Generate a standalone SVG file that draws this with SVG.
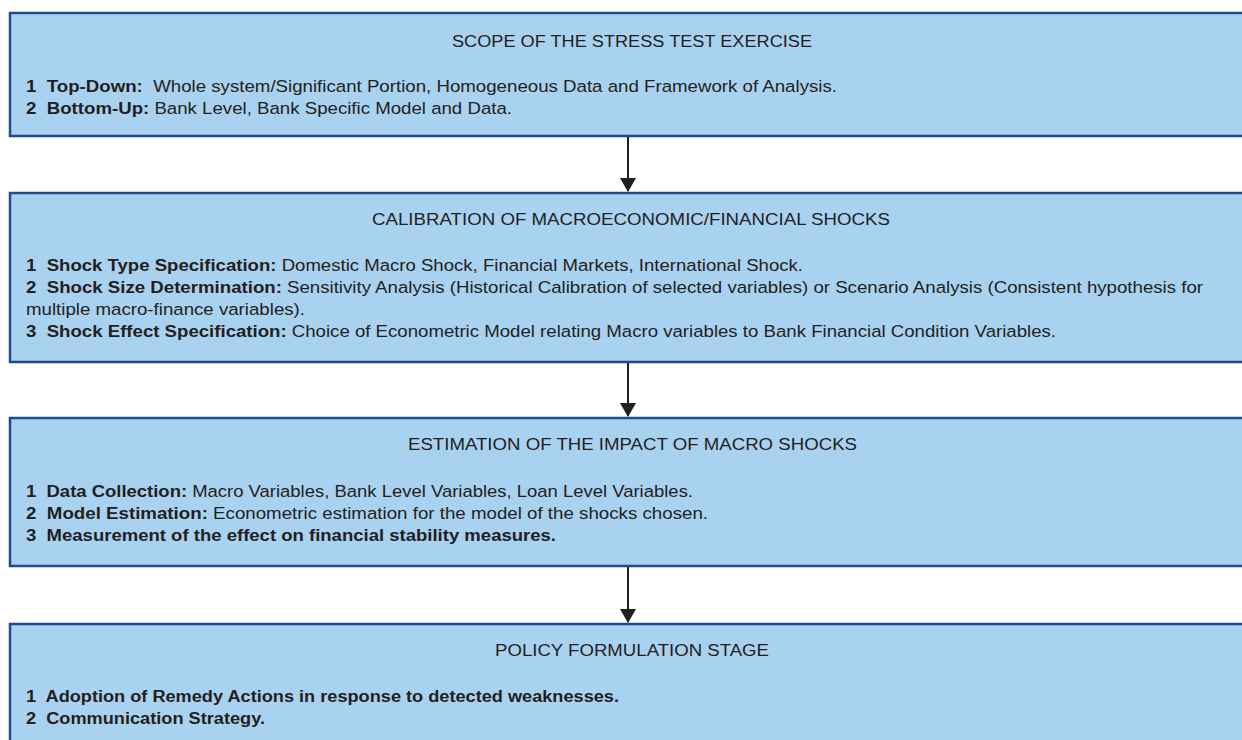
<svg xmlns="http://www.w3.org/2000/svg" width="1242" height="740" viewBox="0 0 1242 740">
<style>
.box{fill:#a9d1f0;stroke:#1f4b8e;stroke-width:2.5}
.t{font-family:"Liberation Sans",Arial,sans-serif;fill:#231f20}
.title{font-size:16.8px}
.body{font-size:16.8px}
.b{font-weight:bold}
.conn{stroke:#231f20;stroke-width:2;fill:none}
</style>
<defs>
<marker id="ah" viewBox="0 0 14 16" refX="13" refY="8" markerWidth="14" markerHeight="16" markerUnits="userSpaceOnUse" orient="auto">
<path d="M0,0 L14,8 L0,16 Z" fill="#231f20"/>
</marker>
</defs>
<rect width="1242" height="740" fill="#ffffff"/>
<g id="node-scope">
<rect class="box" x="10" y="13" width="1250" height="123"/>
<text class="t title" x="452" y="47" textLength="360" lengthAdjust="spacingAndGlyphs">SCOPE OF THE STRESS TEST EXERCISE</text>
<text class="t body" x="26" y="92" textLength="811" lengthAdjust="spacingAndGlyphs"><tspan class="b">1&#160; Top-Down:</tspan>&#160; Whole system/Significant Portion, Homogeneous Data and Framework of Analysis.</text>
<text class="t body" x="26" y="114" textLength="486" lengthAdjust="spacingAndGlyphs"><tspan class="b">2&#160; Bottom-Up:</tspan> Bank Level, Bank Specific Model and Data.</text>
</g>
<g id="node-calibration">
<rect class="box" x="10" y="193" width="1250" height="169"/>
<text class="t title" x="372" y="225" textLength="518" lengthAdjust="spacingAndGlyphs">CALIBRATION OF MACROECONOMIC/FINANCIAL SHOCKS</text>
<text class="t body" x="26" y="271" textLength="777" lengthAdjust="spacingAndGlyphs"><tspan class="b">1&#160; Shock Type Specification:</tspan> Domestic Macro Shock, Financial Markets, International Shock.</text>
<text class="t body" x="26" y="293" textLength="1177" lengthAdjust="spacingAndGlyphs"><tspan class="b">2&#160; Shock Size Determination:</tspan> Sensitivity Analysis (Historical Calibration of selected variables) or Scenario Analysis (Consistent hypothesis for</text>
<text class="t body" x="26" y="315" textLength="279" lengthAdjust="spacingAndGlyphs">multiple macro-finance variables).</text>
<text class="t body" x="26" y="337" textLength="1030" lengthAdjust="spacingAndGlyphs"><tspan class="b">3&#160; Shock Effect Specification:</tspan> Choice of Econometric Model relating Macro variables to Bank Financial Condition Variables.</text>
</g>
<g id="node-estimation">
<rect class="box" x="10" y="418" width="1250" height="148"/>
<text class="t title" x="408" y="450" textLength="449" lengthAdjust="spacingAndGlyphs">ESTIMATION OF THE IMPACT OF MACRO SHOCKS</text>
<text class="t body" x="26" y="497" textLength="667" lengthAdjust="spacingAndGlyphs"><tspan class="b">1&#160; Data Collection:</tspan> Macro Variables, Bank Level Variables, Loan Level Variables.</text>
<text class="t body" x="26" y="519" textLength="682" lengthAdjust="spacingAndGlyphs"><tspan class="b">2&#160; Model Estimation:</tspan> Econometric estimation for the model of the shocks chosen.</text>
<text class="t body b" x="26" y="541" textLength="530" lengthAdjust="spacingAndGlyphs">3&#160; Measurement of the effect on financial stability measures.</text>
</g>
<g id="node-policy">
<rect class="box" x="10" y="624" width="1250" height="140"/>
<text class="t title" x="495" y="656" textLength="274" lengthAdjust="spacingAndGlyphs">POLICY FORMULATION STAGE</text>
<text class="t body b" x="26" y="702" textLength="593" lengthAdjust="spacingAndGlyphs">1&#160; Adoption of Remedy Actions in response to detected weaknesses.</text>
<text class="t body b" x="26" y="724" textLength="239" lengthAdjust="spacingAndGlyphs">2&#160; Communication Strategy.</text>
</g>
<g id="connectors">
<line class="conn" x1="628" y1="137" x2="628" y2="191" marker-end="url(#ah)"/>
<line class="conn" x1="628" y1="363" x2="628" y2="416" marker-end="url(#ah)"/>
<line class="conn" x1="628" y1="567" x2="628" y2="622" marker-end="url(#ah)"/>
</g>
</svg>
